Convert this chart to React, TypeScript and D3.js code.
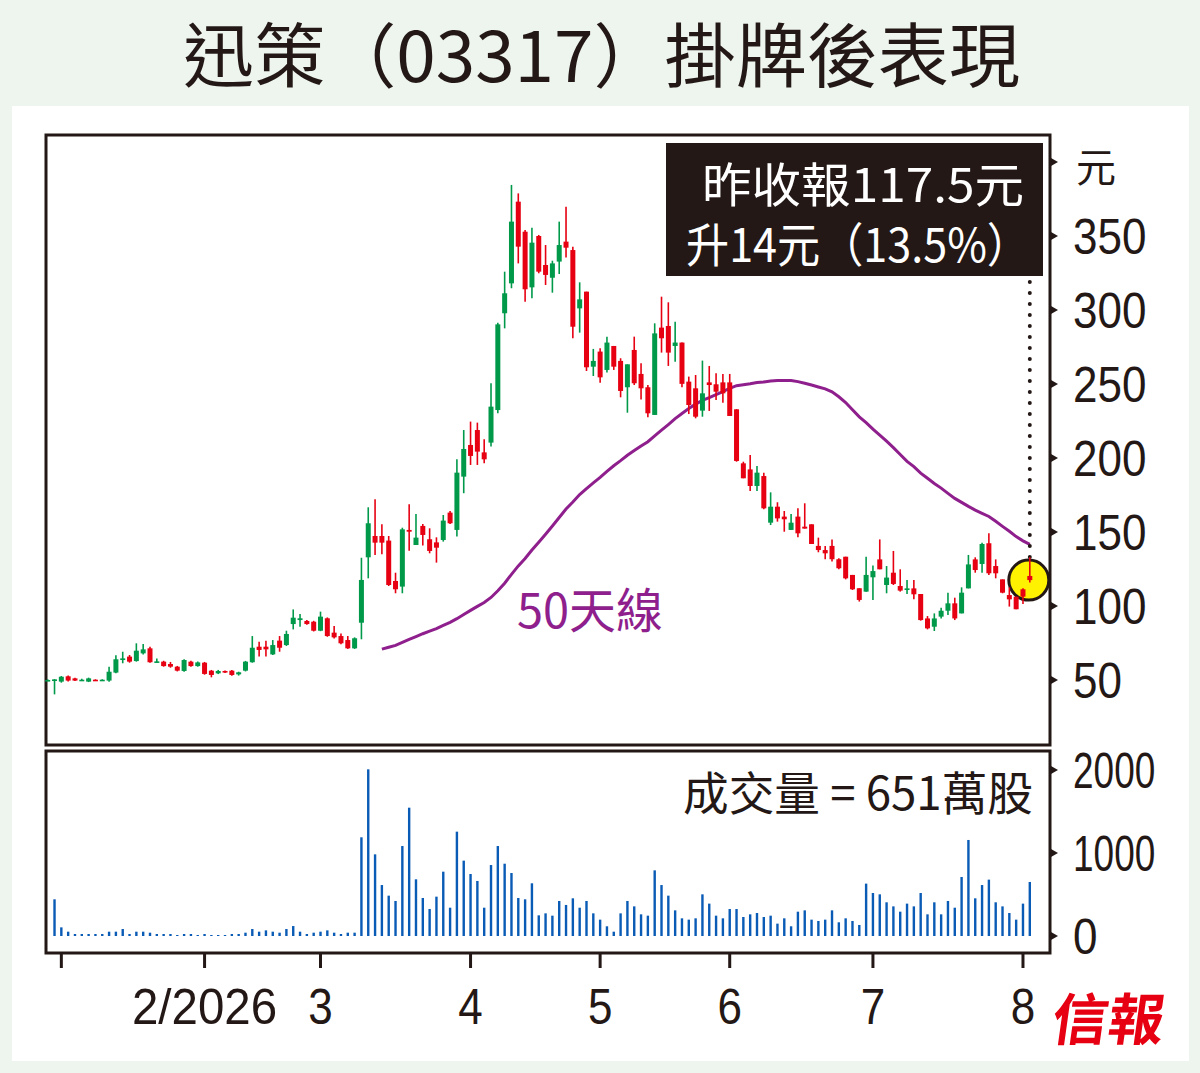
import React from "react";
import * as d3 from "d3";

// ---- data ----
const openP = [49.8,49.5,48.9,52.5,51.1,49.8,48.9,50.2,49.8,49.6,55.0,63.5,65.8,62.8,68.0,71.4,62.0,62.4,60.8,59.0,56.1,62.4,59.4,61.7,56.3,54.5,56.1,56.3,53.8,56.3,62.0,72.5,72.5,67.3,76.6,73.6,87.8,90.5,89.9,89.4,83.3,91.7,82.0,79.7,77.0,71.4,88.7,132.9,147.3,147.3,144.2,116.9,113.1,151.4,141.2,154.1,145.1,143.0,144.6,163.1,151.4,187.4,208.8,218.9,203.8,210.4,232.4,297.8,318.0,373.2,352.9,315.3,350.0,330.4,321.8,332.7,346.2,340.5,301.1,312.4,261.7,271.9,259.5,275.7,265.6,247.8,273.0,256.8,247.8,229.1,288.1,289.2,275.7,278.0,251.6,247.1,232.0,251.1,249.8,251.1,251.1,232.9,196.4,192.3,181.1,187.8,156.3,167.1,160.4,151.4,160.4,153.6,155.2,140.6,137.8,140.6,131.6,133.3,121.0,112.0,109.7,119.4,131.5,114.2,122.5,113.5,110.8,111.9,108.1,91.6,86.0,92.8,96.8,101.8,95.0,111.9,131.5,128.4,142.4,127.0,118.0,107.4,106.3,111.3,120.3];
const highP = [50.5,50.6,52.7,53.0,51.5,50.8,51.6,50.5,50.5,59.0,66.7,69.1,66.9,74.8,74.3,72.5,64.6,63.0,62.2,59.5,64.0,63.0,62.5,62.2,56.8,56.8,56.5,56.8,55.6,62.9,79.7,75.9,76.6,77.0,79.7,83.3,97.7,94.6,90.5,90.0,96.2,92.3,86.5,81.5,79.7,78.8,132.6,166.7,172.1,155.2,147.3,122.5,152.9,168.7,162.2,155.4,152.5,146.4,161.5,164.2,199.1,218.9,224.6,223.9,212.6,250.5,291.4,325.9,384.5,378.8,354.1,355.6,350.7,343.9,333.3,359.7,369.8,342.8,318.7,312.4,273.7,274.1,282.0,275.7,267.4,263.3,282.0,264.0,249.3,291.0,309.0,305.2,292.1,278.0,255.0,256.1,265.8,262.2,257.2,256.8,256.8,233.0,197.5,202.0,194.6,190.1,176.8,170.1,164.2,162.2,166.0,169.4,155.2,146.2,140.6,145.0,132.2,133.3,121.0,112.0,133.3,127.3,145.0,127.0,137.2,124.8,117.6,117.6,108.1,93.2,95.0,98.9,109.0,105.6,112.6,134.5,132.9,142.8,149.1,131.5,118.0,112.6,106.3,112.0,132.9];
const lowP = [49.5,40.3,48.2,49.0,49.3,49.5,48.6,49.5,49.5,48.9,54.5,61.3,61.7,62.4,67.3,61.7,61.8,59.0,58.3,55.8,55.6,59.0,59.0,53.6,51.8,54.0,54.8,52.9,53.0,55.8,61.7,65.8,65.8,66.9,69.1,73.0,84.2,86.0,87.3,82.8,83.0,79.2,78.0,74.1,71.0,71.0,77.5,118.7,134.5,134.9,113.5,108.6,108.6,137.4,141.2,140.8,135.6,129.3,143.5,155.4,146.9,176.2,195.3,195.3,196.4,207.7,230.2,287.6,314.7,331.5,305.6,307.9,324.8,316.9,311.7,324.3,335.4,280.9,284.7,258.8,255.4,250.9,257.7,259.5,241.0,230.6,249.3,239.6,227.5,229.1,271.2,262.2,265.1,247.8,229.7,226.8,227.9,231.8,239.2,237.4,228.4,197.5,186.3,177.7,177.7,165.3,154.7,157.0,150.2,151.4,146.4,152.3,141.9,136.3,131.6,130.0,124.8,118.0,110.8,103.0,109.7,104.1,124.8,108.6,114.2,109.7,108.1,104.5,90.1,84.2,83.1,91.6,93.9,90.5,95.0,111.9,122.5,122.5,121.0,118.7,108.6,99.6,97.8,101.4,115.8];
const closeP = [50.0,50.4,52.2,49.6,49.6,50.2,51.1,49.8,50.2,55.6,64.0,64.6,62.4,69.8,70.7,62.0,62.6,59.4,59.0,56.3,63.5,59.4,61.9,54.1,53.4,56.1,55.2,53.4,55.2,62.4,71.8,70.3,70.7,73.6,71.8,81.1,92.1,91.7,87.8,83.3,92.8,79.7,78.8,74.8,71.4,78.2,117.6,155.9,142.8,142.8,114.2,111.3,151.8,150.2,146.2,148.0,137.2,139.4,157.7,155.9,190.1,206.1,201.4,204.3,199.1,234.7,290.3,311.3,359.7,342.8,314.0,345.5,325.9,323.7,331.5,343.9,342.1,288.7,307.2,261.3,265.6,254.5,278.0,261.7,245.3,263.3,250.5,247.1,230.2,284.2,280.9,271.2,278.0,250.1,235.8,227.9,243.7,249.3,244.8,243.7,228.4,198.0,186.3,181.1,190.1,166.0,167.1,159.2,158.6,156.3,149.1,152.3,141.9,137.8,135.6,131.6,125.5,118.7,111.3,104.1,121.0,123.6,124.8,119.2,114.9,110.4,111.9,107.9,90.5,84.9,91.6,96.8,101.8,91.6,109.0,128.1,124.3,141.9,122.1,122.1,109.0,104.5,97.8,106.3,117.5];
const volume = [0,442,104,52,24,24,24,24,24,52,52,84,24,52,52,40,24,24,24,12,24,24,12,24,12,12,12,24,24,40,84,52,68,52,40,84,120,52,24,40,52,68,40,24,40,40,1189,2008,984,614,486,422,1084,1546,683,458,325,474,775,341,1257,908,747,663,341,855,1084,871,759,458,442,635,249,273,245,422,374,454,341,422,273,197,117,52,273,422,357,261,245,791,614,486,309,213,197,213,502,390,245,213,325,325,229,261,277,229,245,149,213,117,293,309,197,181,197,309,165,213,181,133,631,518,502,406,357,293,390,357,518,261,406,261,422,341,711,1157,454,614,679,406,357,277,197,390,651];

const monthTickIdx = [2, 23, 40, 62, 81, 100, 121, 143];
const monthTickLabels = ["", "2/2026", "3", "4", "5", "6", "7", "8"];
const priceTicks = [50, 100, 150, 200, 250, 300, 350, 400];
const priceTickLabels = ["50", "100", "150", "200", "250", "300", "350", ""];
const volTicks = [0, 1000, 2000];
const volTickLabels = ["0", "1000", "2000"];
const maWindow = 50;

const GREEN = "#00994a";
const RED = "#e60012";
const INK = "#231815";
const PURPLE = "#8e1f8c";
const BLUE = "#0a5bb5";

const NUM_FONT = "'Liberation Sans', Arial, sans-serif";
const CJK_FONT = "'Noto Sans CJK TC', 'Noto Sans CJK SC', sans-serif";

export default function App() {
  const n = closeP.length;
  const x = d3.scaleLinear().domain([0, n - 1]).range([47.7, 1029.8]);
  const yP = d3.scaleLinear().domain([50, 350]).range([680, 236]);
  const yV = d3.scaleLinear().domain([0, 2000]).range([936, 770]);

  const ma = d3.range(maWindow - 1, n).map((i) => ({
    i,
    v: d3.mean(closeP.slice(i - maWindow + 1, i + 1)) as number,
  }));
  const maLine = d3
    .line<{ i: number; v: number }>()
    .x((d) => x(d.i))
    .y((d) => yP(d.v));

  const boxL = 46, boxR = 1050;
  const pTop = 135, pBot = 745;
  const vTop = 751, vBot = 953;

  const last = n - 1;

  const candle = (i: number) => {
    const o = openP[i], c = closeP[i], h = highP[i], l = lowP[i];
    const up = c >= o;
    const col = up ? GREEN : RED;
    const yt = yP(Math.max(o, c));
    const yb = yP(Math.min(o, c));
    const bh = Math.max(1.6, yb - yt);
    const cx = x(i);
    return (
      <g key={i}>
        <line x1={cx} x2={cx} y1={yP(h)} y2={yP(l)} stroke={col} strokeWidth={1.6} />
        <rect x={cx - 2.5} y={yt} width={5} height={bh} fill={col} />
      </g>
    );
  };

  return (
    <svg width={1200} height={1073} style={{ display: "block", position: "absolute", left: 0, top: 0 }}>
      <rect x={0} y={0} width={1200} height={1073} fill="#eef5ee" />
      <rect x={12} y={106} width={1177} height={955} fill="#ffffff" />

      {/* title */}
      <text x={183} y={82} fontFamily={CJK_FONT} fontSize={70} fill={INK} textLength={837} lengthAdjust="spacingAndGlyphs">
        迅策（03317）掛牌後表現
      </text>

      {/* panels */}
      <rect x={boxL} y={pTop} width={boxR - boxL} height={pBot - pTop} fill="none" stroke={INK} strokeWidth={3} />
      <rect x={boxL} y={vTop} width={boxR - boxL} height={vBot - vTop} fill="none" stroke={INK} strokeWidth={3} />

      {/* price ticks */}
      {priceTicks.map((t, k) => (
        <g key={"pt" + t}>
          <path d={`M${boxR + 1},${yP(t) - 4} L${boxR + 8},${yP(t)} L${boxR + 1},${yP(t) + 4} Z`} fill={INK} />
          {priceTickLabels[k] && (
            <text transform={`translate(1073,${yP(t) + 18}) scale(0.88,1)`} fontFamily={NUM_FONT} fontSize={50} fill={INK}>
              {priceTickLabels[k]}
            </text>
          )}
        </g>
      ))}
      <text x={1076} y={182} fontFamily={CJK_FONT} fontSize={40} fill={INK}>元</text>

      {/* volume ticks */}
      {volTicks.map((t, k) => (
        <g key={"vt" + t}>
          <path d={`M${boxR + 1},${yV(t) - 4} L${boxR + 8},${yV(t)} L${boxR + 1},${yV(t) + 4} Z`} fill={INK} />
          <text
            transform={`translate(1073,${yV(t) + 18}) scale(${volTickLabels[k].length > 1 ? 0.74 : 0.88},1)`}
            fontFamily={NUM_FONT}
            fontSize={50}
            fill={INK}
          >
            {volTickLabels[k]}
          </text>
        </g>
      ))}

      {/* x ticks */}
      {monthTickIdx.map((t, k) => (
        <g key={"xt" + t}>
          <line x1={x(t)} x2={x(t)} y1={vBot} y2={vBot + 15} stroke={INK} strokeWidth={3} />
          {monthTickLabels[k] && (
            <text
              transform={`translate(${x(t)},1024) scale(${monthTickLabels[k].length > 1 ? 0.95 : 0.88},1)`}
              textAnchor="middle"
              fontFamily={NUM_FONT}
              fontSize={50}
              fill={INK}
            >
              {monthTickLabels[k]}
            </text>
          )}
        </g>
      ))}

      {/* volume bars */}
      {volume.map((v, i) =>
        v > 0 ? (
          <rect key={"v" + i} x={x(i) - 1.2} y={yV(v)} width={2.4} height={yV(0) - yV(v)} fill={BLUE} />
        ) : null
      )}
      <text x={683} y={810} fontFamily={CJK_FONT} fontSize={46} fill={INK} textLength={350} lengthAdjust="spacingAndGlyphs">
        成交量 = 651萬股
      </text>

      {/* moving average */}
      <path d={maLine(ma) || ""} fill="none" stroke={PURPLE} strokeWidth={3} />
      <text x={517} y={628} fontFamily={CJK_FONT} fontSize={48} fill={PURPLE} textLength={146} lengthAdjust="spacingAndGlyphs">
        50天線
      </text>

      {/* annotation */}
      <rect x={666} y={143} width={377} height={133} fill={INK} />
      <text textAnchor="end" fontFamily={CJK_FONT} fontSize={47} fill="#ffffff">
        <tspan x={1024} y={202} textLength={322} lengthAdjust="spacingAndGlyphs">昨收報117.5元</tspan>
        <tspan x={1030} y={262} textLength={344} lengthAdjust="spacingAndGlyphs">升14元（13.5%）</tspan>
      </text>
      <line x1={x(last)} x2={x(last)} y1={282} y2={560} stroke={INK} strokeWidth={4} strokeLinecap="round" strokeDasharray="0 11" />
      <circle cx={x(last) - 1} cy={yP(closeP[last])} r={20} fill="#fff200" stroke={INK} strokeWidth={3} />

      {/* candles */}
      {d3.range(n).map((i) => candle(i))}

      {/* logo */}
      <text x={1050} y={1040} fontFamily={CJK_FONT} fontWeight={700} fontSize={56} fill={RED} transform="skewX(-8) translate(146,0)">
        信報
      </text>
    </svg>
  );
}
